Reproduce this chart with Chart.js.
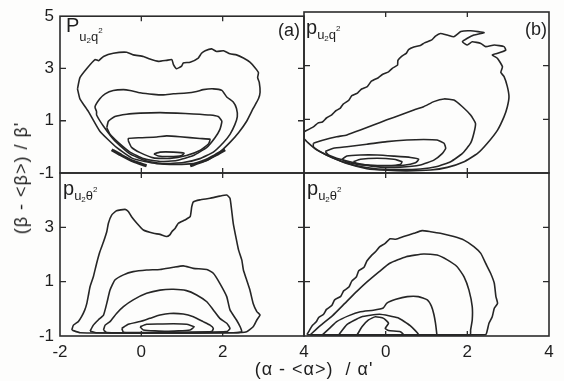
<!DOCTYPE html>
<html><head><meta charset="utf-8">
<script src="https://cdn.jsdelivr.net/npm/chart.js@4.4.1/dist/chart.umd.min.js"></script>
<style>
html,body{margin:0;padding:0;background:#fff;}
#wrap{position:relative;width:564px;height:381px;overflow:hidden;font-family:"Liberation Sans",Arial,Helvetica,sans-serif;color:#1e1e1e;background:#fdfdfc;}
canvas{position:absolute;left:0;top:0;}
.t{position:absolute;white-space:nowrap;line-height:1;}
.m{font-size:20px;}
.s{font-size:13px;position:relative;}
.i{font-size:8px;position:relative;top:2px;}
.e{font-size:8px;position:relative;top:-8px;}
</style></head><body>
<div id="wrap">
<canvas id="ca" width="564" height="381"></canvas>
<canvas id="cb" width="564" height="381"></canvas>
<canvas id="cc" width="564" height="381"></canvas>
<canvas id="cd" width="564" height="381"></canvas>
<div class="t" style="left:66px;top:15px;"><span class="m">P</span><span class="s" style="top:9px;">u<span class="i">2</span>q<span class="e">2</span></span></div>
<div class="t" style="left:306px;top:17px;"><span class="m">p</span><span class="s" style="top:5px;">u<span class="i">2</span>q<span class="e">2</span></span></div>
<div class="t" style="left:63px;top:178px;"><span class="m">p</span><span class="s" style="top:5px;">u<span class="i">2</span>θ<span class="e">2</span></span></div>
<div class="t" style="left:307px;top:178px;"><span class="m">p</span><span class="s" style="top:5px;">u<span class="i">2</span>θ<span class="e">2</span></span></div>
<div class="t" style="right:264px;top:21px;font-size:18px;">(a)</div>
<div class="t" style="right:17px;top:20px;font-size:18px;">(b)</div>
<div class="t" style="left:314px;top:360px;font-size:18px;letter-spacing:1px;transform:translateX(-50%);">(α - &lt;α&gt;) &nbsp;/ α'</div>
<div class="t" style="left:21px;top:178px;font-size:18px;letter-spacing:1px;transform:translate(-50%,-50%) rotate(-90deg);">(β - &lt;β&gt;) / β'</div>
</div>
<script>
// tick values and labels
const xTicks = [-2, 0, 2, 4];
const yTicks = [-1, 1, 3, 5];
const xLabelsLeft = ['-2', '0', '2', '4'];
const xLabelsRight = ['', '0', '2', '4'];
const yLabelsTop = ['-1', '1', '3', '5'];
const yLabelsBottom = ['-1', '1', '3', ''];
const xMarks = [0, 2];
const yMarks = [1, 3];

// panel (a): P_{u2 q2}
const aC1 = [[-1.57,2.22],[-1.51,2.65],[-1.33,3.02],[-1.14,3.34],[-1.05,3.30],[-0.93,3.46],[-0.69,3.58],[-0.36,3.62],[-0.20,3.52],[0.05,3.46],[0.21,3.36],[0.42,3.27],[0.62,3.31],[0.75,3.34],[0.79,3.15],[0.87,2.99],[0.99,3.09],[1.03,3.21],[1.20,3.24],[1.40,3.40],[1.48,3.58],[1.57,3.68],[1.73,3.75],[1.85,3.65],[2.02,3.68],[2.18,3.56],[2.34,3.52],[2.51,3.40],[2.67,3.24],[2.80,3.02],[2.88,2.84],[2.86,2.65],[2.90,2.47],[2.92,2.09],[2.88,1.84],[2.75,1.47],[2.59,0.98],[2.39,0.54],[2.18,0.17],[1.93,-0.20],[1.61,-0.52],[1.28,-0.64],[0.87,-0.67],[0.38,-0.64],[-0.20,-0.45],[-0.61,-0.02],[-1.02,0.60],[-1.30,1.35],[-1.51,1.84]];
const aC2 = [[-1.10,1.35],[-1.14,1.53],[-1.02,1.84],[-0.89,2.03],[-0.69,2.16],[-0.44,2.19],[-0.28,2.16],[-0.03,2.07],[0.30,2.01],[0.54,1.99],[0.79,2.03],[1.11,2.06],[1.36,2.12],[1.52,2.19],[1.77,2.22],[1.98,2.16],[2.10,1.91],[2.26,1.72],[2.34,1.47],[2.36,1.16],[2.30,0.85],[2.18,0.48],[2.02,0.17],[1.77,-0.20],[1.44,-0.45],[1.03,-0.60],[0.54,-0.64],[0.13,-0.54],[-0.28,-0.27],[-0.65,0.23],[-0.93,0.79],[-1.10,1.22]];
const aC3 = [[-0.85,0.73],[-0.81,0.98],[-0.65,1.16],[-0.36,1.25],[-0.03,1.29],[0.46,1.31],[0.87,1.29],[1.28,1.26],[1.69,1.22],[1.89,1.16],[1.98,0.98],[1.93,0.66],[1.81,0.35],[1.61,-0.02],[1.28,-0.33],[0.87,-0.52],[0.46,-0.56],[0.05,-0.45],[-0.28,-0.20],[-0.57,0.17],[-0.77,0.48]];
const aC4 = [[-0.32,0.23],[-0.32,0.32],[-0.03,0.35],[0.38,0.38],[0.62,0.42],[0.95,0.39],[1.44,0.32],[1.69,0.29],[1.65,0.11],[1.44,-0.14],[1.11,-0.33],[0.70,-0.44],[0.30,-0.42],[-0.03,-0.22],[-0.24,-0.02]];
const aC5 = [[0.31,-0.27],[0.46,-0.20],[0.79,-0.20],[1.05,-0.24],[0.99,-0.33],[0.70,-0.37],[0.42,-0.35]];
const aArcL = [[-0.73,-0.11],[-0.48,-0.33],[-0.20,-0.55],[0.13,-0.73]];
const aArcR = [[1.20,-0.73],[1.52,-0.55],[1.81,-0.33],[2.06,-0.11]];

// panel (b): p_{u2 q2}
const bC1 = [[-2.0,0.54],[-1.77,0.72],[-1.66,0.86],[-1.55,0.90],[-1.45,1.05],[-1.32,1.17],[-1.22,1.32],[-1.11,1.42],[-1.04,1.57],[-0.91,1.70],[-0.83,1.88],[-0.69,1.98],[-0.59,2.13],[-0.45,2.22],[-0.35,2.42],[-0.18,2.55],[-0.08,2.67],[0.07,2.77],[0.17,2.91],[0.29,3.02],[0.30,3.20],[0.39,3.35],[0.51,3.47],[0.56,3.60],[0.69,3.70],[0.85,3.75],[0.95,3.85],[1.13,3.96],[1.22,4.10],[1.34,4.20],[1.51,4.14],[1.67,4.08],[1.84,4.27],[2.08,4.30],[2.41,4.23],[2.16,4.14],[2.00,4.02],[1.88,3.89],[2.00,3.77],[2.12,3.89],[2.33,3.83],[2.45,3.71],[2.66,3.77],[2.90,3.71],[2.94,3.58],[2.74,3.46],[2.61,3.40],[2.74,3.27],[2.86,2.96],[2.82,2.75],[2.90,2.59],[2.98,2.22],[3.02,1.84],[2.98,1.47],[2.90,1.10],[2.74,0.60],[2.49,0.11],[2.25,-0.27],[1.92,-0.58],[1.51,-0.79],[1.10,-0.89],[0.52,-0.92],[0.03,-0.90],[-0.46,-0.84],[-0.95,-0.65],[-1.36,-0.39],[-1.69,-0.14],[-1.89,0.11],[-2.0,0.29]];
const bC2 = [[-1.77,0.11],[-1.52,0.23],[-1.20,0.35],[-0.95,0.42],[-0.62,0.60],[-0.30,0.79],[0.03,0.98],[0.36,1.16],[0.69,1.35],[0.93,1.47],[1.18,1.66],[1.43,1.76],[1.67,1.72],[1.88,1.47],[2.08,1.16],[2.20,0.85],[2.16,0.48],[2.08,0.11],[1.88,-0.27],[1.59,-0.58],[1.26,-0.76],[0.85,-0.85],[0.28,-0.87],[-0.30,-0.83],[-0.79,-0.70],[-1.28,-0.45],[-1.61,-0.20],[-1.77,-0.02]];
const bC3 = [[-1.48,-0.20],[-1.28,-0.08],[-0.95,-0.02],[-0.46,0.07],[0.03,0.17],[0.52,0.23],[0.93,0.25],[1.26,0.23],[1.43,0.11],[1.47,-0.08],[1.39,-0.27],[1.18,-0.52],[0.85,-0.70],[0.36,-0.78],[-0.13,-0.78],[-0.62,-0.67],[-1.11,-0.49],[-1.40,-0.33]];
const bC4 = [[-1.07,-0.49],[-0.95,-0.37],[-0.62,-0.33],[-0.21,-0.33],[0.20,-0.37],[0.61,-0.42],[0.81,-0.49],[0.73,-0.62],[0.44,-0.71],[-0.05,-0.73],[-0.54,-0.70],[-0.95,-0.60]];
const bC5 = [[-0.79,-0.58],[-0.62,-0.49],[-0.21,-0.45],[0.20,-0.49],[0.40,-0.58],[0.36,-0.68],[0.03,-0.72],[-0.38,-0.71],[-0.70,-0.67]];

// panel (c): p_{u2 theta2}
const cC1 = [[-1.71,-0.78],[-1.67,-0.60],[-1.55,-0.47],[-1.47,-0.29],[-1.39,-0.04],[-1.34,0.20],[-1.30,0.51],[-1.26,0.82],[-1.18,1.18],[-1.10,1.67],[-1.02,2.10],[-0.93,2.47],[-0.85,2.84],[-0.81,3.15],[-0.73,3.45],[-0.61,3.61],[-0.40,3.66],[-0.32,3.58],[-0.24,3.39],[-0.11,3.15],[0.05,2.90],[0.30,2.78],[0.46,2.74],[0.62,2.66],[0.70,2.72],[0.75,2.84],[0.83,2.96],[0.91,3.15],[1.07,3.27],[1.20,3.39],[1.24,3.76],[1.28,3.94],[1.44,4.01],[1.69,4.07],[1.93,4.15],[2.10,4.19],[2.18,4.07],[2.22,3.64],[2.26,3.15],[2.34,2.53],[2.39,2.17],[2.47,1.80],[2.51,1.43],[2.59,1.06],[2.67,0.69],[2.75,0.20],[2.84,-0.10],[2.92,-0.23],[2.84,-0.41],[2.75,-0.66],[2.59,-0.84],[2.26,-0.88],[0.50,-0.89],[-1.50,-0.88]];
const cC2 = [[-1.26,-0.82],[-1.18,-0.60],[-1.06,-0.41],[-0.93,-0.23],[-0.85,0.20],[-0.77,0.69],[-0.65,1.06],[-0.44,1.25],[-0.20,1.37],[0.13,1.43],[0.46,1.45],[0.79,1.53],[1.03,1.58],[1.28,1.49],[1.61,1.45],[1.77,1.31],[1.93,0.94],[2.10,0.45],[2.18,-0.04],[2.34,-0.41],[2.43,-0.66],[2.47,-0.84],[2.26,-0.88],[0.50,-0.89],[-1.10,-0.88]];
const cC3 = [[-0.93,-0.78],[-0.89,-0.60],[-0.77,-0.47],[-0.61,-0.17],[-0.44,0.08],[-0.20,0.33],[0.13,0.57],[0.46,0.69],[0.79,0.72],[1.11,0.67],[1.36,0.51],[1.61,0.26],[1.77,-0.04],[1.93,-0.35],[2.10,-0.53],[2.18,-0.72],[2.10,-0.84],[0.50,-0.88],[-0.85,-0.87]];
const cC4 = [[-0.48,-0.72],[-0.32,-0.57],[-0.03,-0.47],[0.21,-0.35],[0.46,-0.23],[0.70,-0.17],[1.03,-0.19],[1.28,-0.29],[1.52,-0.47],[1.69,-0.60],[1.77,-0.72],[1.73,-0.84],[0.50,-0.87],[-0.44,-0.86]];
const cC5 = [[-0.03,-0.66],[0.13,-0.57],[0.46,-0.56],[0.79,-0.55],[1.11,-0.57],[1.30,-0.66],[1.20,-0.78],[0.62,-0.83],[0.05,-0.78]];

// panel (d): p_{u2 theta2}
const dC1 = [[-1.93,-0.95],[-1.87,-0.80],[-1.80,-0.62],[-1.70,-0.48],[-1.64,-0.32],[-1.52,-0.20],[-1.45,-0.02],[-1.32,0.12],[-1.25,0.33],[-1.10,0.46],[-1.03,0.66],[-0.90,0.80],[-0.83,1.02],[-0.72,1.17],[-0.66,1.40],[-0.53,1.53],[-0.46,1.76],[-0.35,1.96],[-0.25,2.10],[-0.15,2.28],[-0.02,2.40],[0.11,2.58],[0.25,2.56],[0.44,2.66],[0.69,2.78],[0.89,2.88],[1.10,2.84],[1.34,2.78],[1.67,2.66],[1.92,2.53],[2.16,2.29],[2.33,2.04],[2.45,1.67],[2.57,1.31],[2.66,0.94],[2.70,0.45],[2.74,0.20],[2.66,0.02],[2.61,-0.29],[2.53,-0.53],[2.49,-0.78],[2.45,-0.95]];
const dC2 = [[-1.85,-0.96],[-1.60,-0.62],[-1.30,-0.25],[-1.00,0.20],[-0.70,0.65],[-0.45,1.00],[-0.15,1.38],[0.10,1.68],[0.50,1.92],[0.93,2.02],[1.26,1.98],[1.51,1.80],[1.75,1.55],[1.92,1.18],[2.04,0.69],[2.12,0.08],[2.12,-0.41],[2.08,-0.78],[2.07,-0.96]];
const dC3 = [[-1.55,-0.96],[-1.35,-0.68],[-1.20,-0.47],[-0.90,-0.25],[-0.62,-0.11],[-0.30,-0.05],[-0.06,0.03],[0.03,0.21],[0.25,0.35],[0.53,0.45],[0.80,0.45],[1.02,0.33],[1.12,0.10],[1.18,-0.20],[1.22,-0.53],[1.25,-0.90],[1.25,-0.96]];
const dC4 = [[-1.15,-0.96],[-0.95,-0.58],[-0.60,-0.30],[-0.15,-0.20],[0.30,-0.33],[0.60,-0.62],[0.80,-0.96]];
const dC5 = [[-0.70,-0.96],[-0.58,-0.66],[-0.42,-0.41],[-0.25,-0.29],[-0.05,-0.35],[0.07,-0.53],[-0.01,-0.72],[0.07,-0.80],[0.36,-0.84],[0.44,-0.96]];

const LINE = '#262626';
const FONT = {family: '"Liberation Sans", Arial, Helvetica, sans-serif', size: 17};

function ds(pts, closed, width) {
  const p = closed ? pts.concat([pts[0]]) : pts;
  return {data: p.map(q => ({x: q[0], y: q[1]})), showLine: true, borderColor: LINE,
    borderWidth: width || 1.6, pointRadius: 0, tension: 0.15, fill: false};
}

const framePlugin = {
  id: 'frame',
  afterDatasetsDraw(chart) {
    const {ctx, chartArea: a, scales: {x, y}} = chart;
    ctx.save();
    ctx.strokeStyle = '#2b2b2b';
    ctx.lineWidth = 1.6;
    ctx.strokeRect(a.left, a.top, a.right - a.left, a.bottom - a.top);
    ctx.lineWidth = 1.3;
    ctx.beginPath();
    xMarks.forEach(v => { const px = x.getPixelForValue(v);
      ctx.moveTo(px, a.top); ctx.lineTo(px, a.top + 5);
      ctx.moveTo(px, a.bottom); ctx.lineTo(px, a.bottom - 5); });
    yMarks.forEach(v => { const py = y.getPixelForValue(v);
      ctx.moveTo(a.left, py); ctx.lineTo(a.left + 6, py);
      ctx.moveTo(a.right, py); ctx.lineTo(a.right - 6, py); });
    ctx.stroke();
    ctx.restore();
  }
};

function makeChart(id, datasets, pad, opts) {
  const xScale = {type: 'linear', min: -2, max: 4, display: !!opts.xLabels,
    grid: {display: false, drawTicks: false}, border: {display: false},
    afterBuildTicks: s => { s.ticks = xTicks.map(v => ({value: v})); },
    afterFit: s => { s.height = opts.xLabels ? 45 : 0; },
    ticks: {font: FONT, color: '#1e1e1e', padding: 6, maxRotation: 0, autoSkip: false,
      callback: (v) => opts.xLabels ? opts.xLabels[xTicks.indexOf(v)] : ''}};
  const yScale = {type: 'linear', min: -1, max: 5, display: !!opts.yLabels,
    grid: {display: false, drawTicks: false}, border: {display: false},
    afterBuildTicks: s => { s.ticks = yTicks.map(v => ({value: v})); },
    afterFit: s => { s.width = opts.yLabels ? 60 : 0; },
    ticks: {font: FONT, color: '#1e1e1e', padding: 6, autoSkip: false,
      callback: (v) => opts.yLabels ? opts.yLabels[yTicks.indexOf(v)] : ''}};
  return new Chart(document.getElementById(id), {
    type: 'scatter',
    data: {datasets},
    options: {responsive: false, animation: false, events: [],
      layout: {padding: pad},
      plugins: {legend: {display: false}, tooltip: {enabled: false}},
      scales: {x: xScale, y: yScale}},
    plugins: [framePlugin]
  });
}

makeChart('ca', [ds(aC1, true), ds(aC2, true), ds(aC3, true), ds(aC4, true), ds(aC5, true),
  ds(aArcL, false, 3), ds(aArcR, false, 3)],
  {left: 0, right: 260, top: 12, bottom: 208}, {yLabels: yLabelsTop});
makeChart('cb', [ds(bC1, true), ds(bC2, true), ds(bC3, true), ds(bC4, true), ds(bC5, true)],
  {left: 304, right: 15, top: 12, bottom: 208}, {});
makeChart('cc', [ds(cC1, true), ds(cC2, true), ds(cC3, true), ds(cC4, true), ds(cC5, true)],
  {left: 0, right: 260, top: 173, bottom: 0}, {yLabels: yLabelsBottom, xLabels: xLabelsLeft});
makeChart('cd', [ds(dC1, true), ds(dC2, true), ds(dC3, true), ds(dC4, true), ds(dC5, true)],
  {left: 304, right: 15, top: 173, bottom: 0}, {xLabels: xLabelsRight});
</script>
</body></html>
